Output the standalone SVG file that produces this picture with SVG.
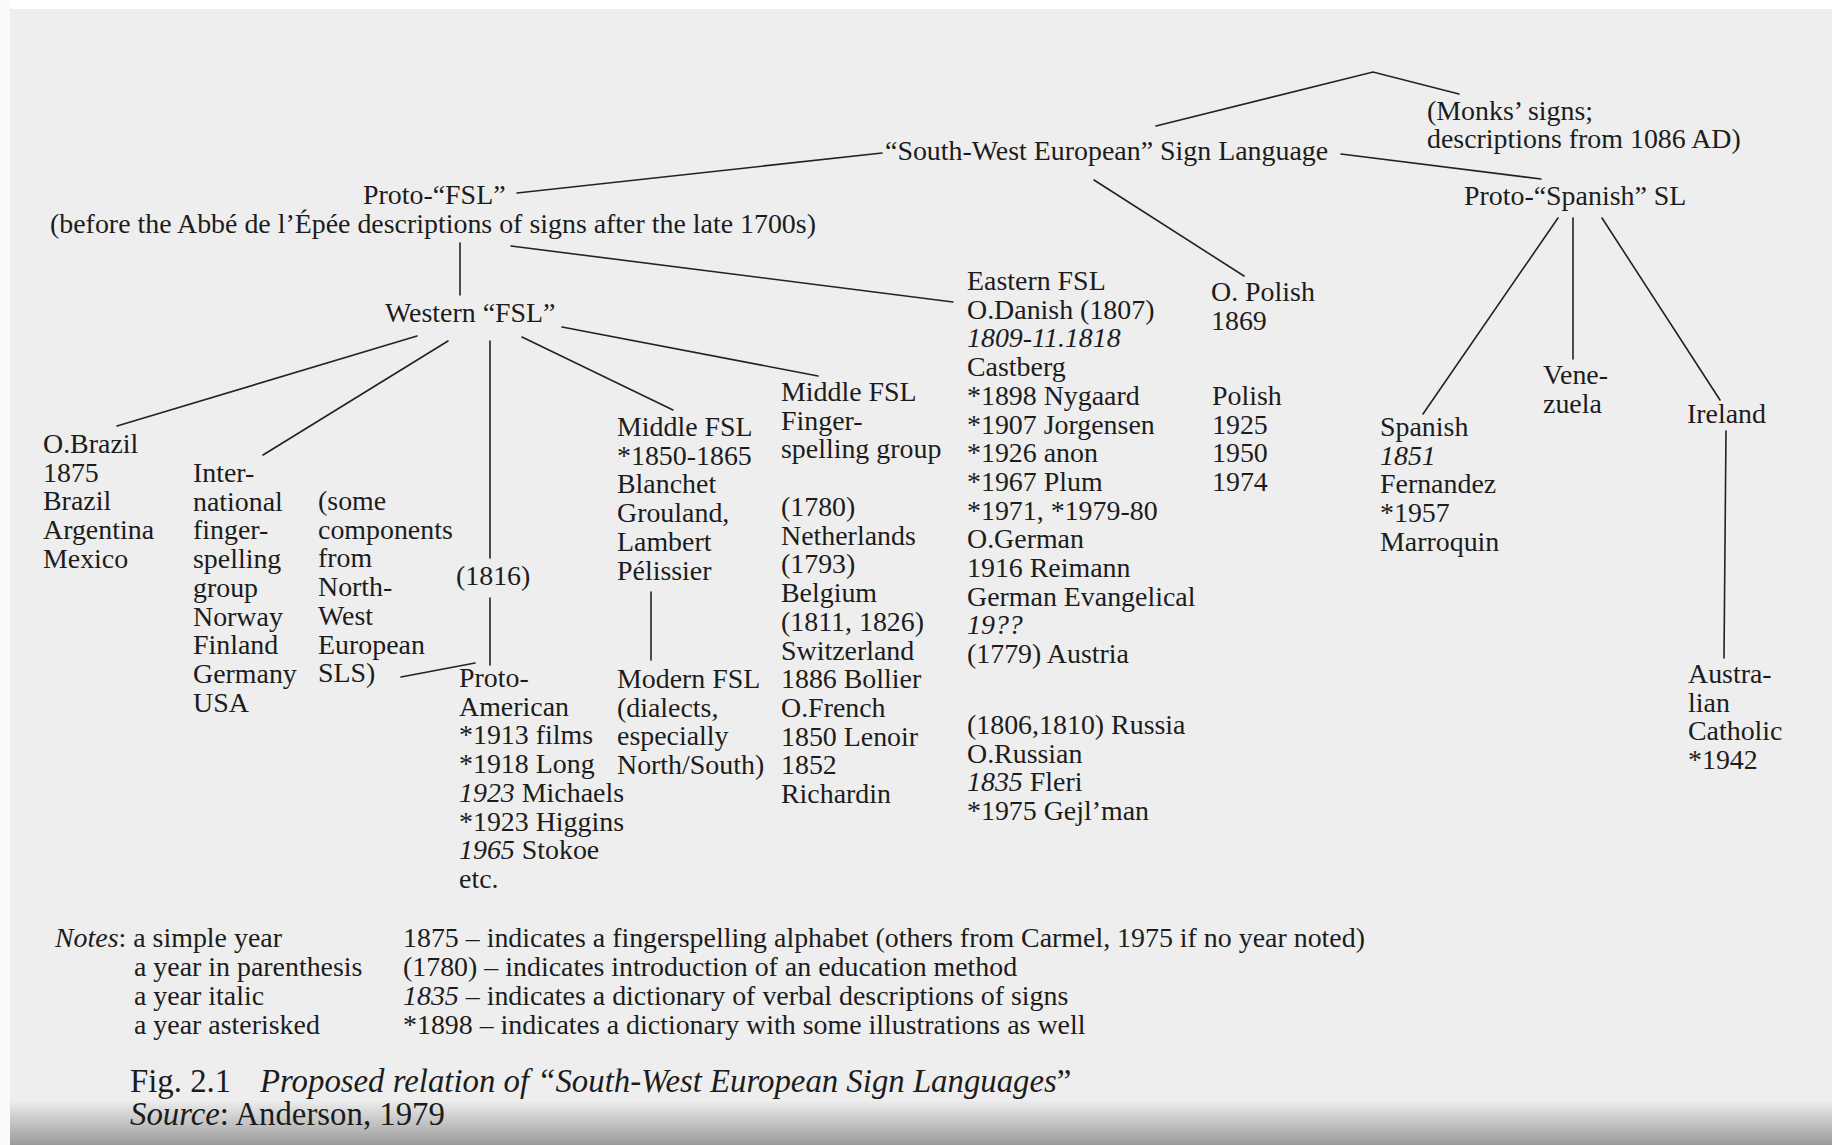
<svg xmlns="http://www.w3.org/2000/svg" width="1832" height="1145" viewBox="0 0 1832 1145">
<defs>
<style>
.t{font-family:"Liberation Serif","Times New Roman",serif;font-size:27.9px;fill:#1c1c1c}
.i{font-style:italic}
.c{font-size:32.8px}
.ln{stroke:#222;stroke-width:1.6;fill:none;stroke-linecap:round}
</style>
<linearGradient id="bot" x1="0" y1="0" x2="0" y2="1">
<stop offset="0" stop-color="#eeeeee"/>
<stop offset="1" stop-color="#9a9a9a"/>
</linearGradient>
</defs>
<rect x="0" y="0" width="1832" height="1145" fill="#eeeeee"/>
<rect x="0" y="0" width="1832" height="9" fill="#ffffff"/>
<rect x="0" y="0" width="10" height="1145" fill="#fafafa"/>
<rect x="10" y="1100" width="1822" height="45" fill="url(#bot)"/>

<g id="connectors" class="ln">
<polyline points="1156,126 1373,72 1459,94"/>
<line x1="517" y1="193" x2="882" y2="153"/>
<line x1="1341" y1="154" x2="1541" y2="179"/>
<line x1="1094" y1="180" x2="1244" y2="276"/>
<line x1="460" y1="243" x2="460" y2="295"/>
<line x1="511" y1="246" x2="953" y2="302"/>
<line x1="417" y1="336" x2="117" y2="426"/>
<line x1="448" y1="341" x2="263" y2="455"/>
<line x1="490" y1="341" x2="490" y2="558"/>
<line x1="490" y1="598" x2="490" y2="665"/>
<line x1="401" y1="677" x2="475" y2="663"/>
<line x1="522" y1="337" x2="673" y2="410"/>
<line x1="562" y1="327" x2="818" y2="376"/>
<line x1="651" y1="592" x2="651" y2="660"/>
<line x1="1558" y1="218" x2="1423" y2="414"/>
<line x1="1573" y1="218" x2="1573" y2="359"/>
<line x1="1602" y1="218" x2="1720" y2="400"/>
<line x1="1726" y1="431" x2="1724" y2="658"/>
</g>

<g id="n-sw"><text class="t" x="885" y="160">“South-West European” Sign Language</text></g>
<g id="n-monks"><text class="t"><tspan x="1427" y="120">(Monks’ signs;</tspan><tspan x="1427" y="148">descriptions from 1086 AD)</tspan></text></g>
<g id="n-protofsl"><text class="t"><tspan x="363" y="204">Proto-“FSL”</tspan><tspan x="50" y="233">(before the Abbé de l’Épée descriptions of signs after the late 1700s)</tspan></text></g>
<g id="n-protospanish"><text class="t" x="1464" y="205">Proto-“Spanish” SL</text></g>
<g id="n-western"><text class="t" x="385" y="322">Western “FSL”</text></g>

<g id="n-eastern"><text class="t">
<tspan x="967" y="290">Eastern FSL</tspan>
<tspan x="967" dy="28.7">O.Danish (1807)</tspan>
<tspan x="967" dy="28.7" class="i">1809-11.1818</tspan>
<tspan x="967" dy="28.7">Castberg</tspan>
<tspan x="967" dy="28.7">*1898 Nygaard</tspan>
<tspan x="967" dy="28.7">*1907 Jorgensen</tspan>
<tspan x="967" dy="28.7">*1926 anon</tspan>
<tspan x="967" dy="28.7">*1967 Plum</tspan>
<tspan x="967" dy="28.7">*1971, *1979-80</tspan>
<tspan x="967" dy="28.7">O.German</tspan>
<tspan x="967" dy="28.7">1916 Reimann</tspan>
<tspan x="967" dy="28.7">German Evangelical</tspan>
<tspan x="967" dy="28.7" class="i">19??</tspan>
<tspan x="967" dy="28.7">(1779) Austria</tspan>
<tspan x="967" y="734">(1806,1810) Russia</tspan>
<tspan x="967" dy="28.7">O.Russian</tspan>
<tspan x="967" dy="28.7"><tspan class="i">1835</tspan> Fleri</tspan>
<tspan x="967" dy="28.7">*1975 Gejl’man</tspan>
</text></g>

<g id="n-opolish"><text class="t">
<tspan x="1211" y="301">O. Polish</tspan>
<tspan x="1211" dy="28.7">1869</tspan>
<tspan x="1212" y="405">Polish</tspan>
<tspan x="1212" dy="28.7">1925</tspan>
<tspan x="1212" dy="28.7">1950</tspan>
<tspan x="1212" dy="28.7">1974</tspan>
</text></g>

<g id="n-obrazil"><text class="t">
<tspan x="43" y="453">O.Brazil</tspan>
<tspan x="43" dy="28.7">1875</tspan>
<tspan x="43" dy="28.7">Brazil</tspan>
<tspan x="43" dy="28.7">Argentina</tspan>
<tspan x="43" dy="28.7">Mexico</tspan>
</text></g>

<g id="n-intl"><text class="t">
<tspan x="193" y="482">Inter-</tspan>
<tspan x="193" dy="28.7">national</tspan>
<tspan x="193" dy="28.7">finger-</tspan>
<tspan x="193" dy="28.7">spelling</tspan>
<tspan x="193" dy="28.7">group</tspan>
<tspan x="193" dy="28.7">Norway</tspan>
<tspan x="193" dy="28.7">Finland</tspan>
<tspan x="193" dy="28.7">Germany</tspan>
<tspan x="193" dy="28.7">USA</tspan>
</text></g>

<g id="n-some"><text class="t">
<tspan x="318" y="510">(some</tspan>
<tspan x="318" dy="28.7">components</tspan>
<tspan x="318" dy="28.7">from</tspan>
<tspan x="318" dy="28.7">North-</tspan>
<tspan x="318" dy="28.7">West</tspan>
<tspan x="318" dy="28.7">European</tspan>
<tspan x="318" dy="28.7">SLS)</tspan>
</text></g>

<g id="n-1816"><text class="t" x="456" y="585">(1816)</text></g>

<g id="n-protoam"><text class="t">
<tspan x="459" y="687">Proto-</tspan>
<tspan x="459" dy="28.7">American</tspan>
<tspan x="459" dy="28.7">*1913 films</tspan>
<tspan x="459" dy="28.7">*1918 Long</tspan>
<tspan x="459" dy="28.7"><tspan class="i">1923</tspan> Michaels</tspan>
<tspan x="459" dy="28.7">*1923 Higgins</tspan>
<tspan x="459" dy="28.7"><tspan class="i">1965</tspan> Stokoe</tspan>
<tspan x="459" dy="28.7">etc.</tspan>
</text></g>

<g id="n-middle1"><text class="t">
<tspan x="617" y="436">Middle FSL</tspan>
<tspan x="617" dy="28.7">*1850-1865</tspan>
<tspan x="617" dy="28.7">Blanchet</tspan>
<tspan x="617" dy="28.7">Grouland,</tspan>
<tspan x="617" dy="28.7">Lambert</tspan>
<tspan x="617" dy="28.7">Pélissier</tspan>
</text></g>

<g id="n-modern"><text class="t">
<tspan x="617" y="688">Modern FSL</tspan>
<tspan x="617" dy="28.7">(dialects,</tspan>
<tspan x="617" dy="28.7">especially</tspan>
<tspan x="617" dy="28.7">North/South)</tspan>
</text></g>

<g id="n-middle2"><text class="t">
<tspan x="781" y="401">Middle FSL</tspan>
<tspan x="781" dy="28.7">Finger-</tspan>
<tspan x="781" dy="28.7">spelling group</tspan>
<tspan x="781" y="516">(1780)</tspan>
<tspan x="781" dy="28.7">Netherlands</tspan>
<tspan x="781" dy="28.7">(1793)</tspan>
<tspan x="781" dy="28.7">Belgium</tspan>
<tspan x="781" dy="28.7">(1811, 1826)</tspan>
<tspan x="781" dy="28.7">Switzerland</tspan>
<tspan x="781" dy="28.7">1886 Bollier</tspan>
<tspan x="781" dy="28.7">O.French</tspan>
<tspan x="781" dy="28.7">1850 Lenoir</tspan>
<tspan x="781" dy="28.7">1852</tspan>
<tspan x="781" dy="28.7">Richardin</tspan>
</text></g>

<g id="n-spanish"><text class="t">
<tspan x="1380" y="436">Spanish</tspan>
<tspan x="1380" dy="28.7" class="i">1851</tspan>
<tspan x="1380" dy="28.7">Fernandez</tspan>
<tspan x="1380" dy="28.7">*1957</tspan>
<tspan x="1380" dy="28.7">Marroquin</tspan>
</text></g>

<g id="n-venezuela"><text class="t">
<tspan x="1543" y="384">Vene-</tspan>
<tspan x="1543" dy="28.7">zuela</tspan>
</text></g>

<g id="n-ireland"><text class="t" x="1687" y="423">Ireland</text></g>

<g id="n-australian"><text class="t">
<tspan x="1688" y="683">Austra-</tspan>
<tspan x="1688" dy="28.7">lian</tspan>
<tspan x="1688" dy="28.7">Catholic</tspan>
<tspan x="1688" dy="28.7">*1942</tspan>
</text></g>

<g id="notes"><text class="t">
<tspan x="55" y="947"><tspan class="i">Notes</tspan>: a simple year</tspan>
<tspan x="134" dy="29">a year in parenthesis</tspan>
<tspan x="134" dy="29">a year italic</tspan>
<tspan x="134" dy="29">a year asterisked</tspan>
</text>
<text class="t">
<tspan x="403" y="947">1875 – indicates a fingerspelling alphabet (others from Carmel, 1975 if no year noted)</tspan>
<tspan x="403" dy="29">(1780) – indicates introduction of an education method</tspan>
<tspan x="403" dy="29"><tspan class="i">1835</tspan> – indicates a dictionary of verbal descriptions of signs</tspan>
<tspan x="403" dy="29">*1898 – indicates a dictionary with some illustrations as well</tspan>
</text></g>

<g id="caption"><text class="t c">
<tspan x="130" y="1092">Fig. 2.1</tspan>
<tspan x="260" y="1092"><tspan class="i">Proposed relation of “South-West European Sign Languages</tspan>”</tspan>
<tspan x="130" y="1125"><tspan class="i">Source</tspan>: Anderson, 1979</tspan>
</text></g>
</svg>
